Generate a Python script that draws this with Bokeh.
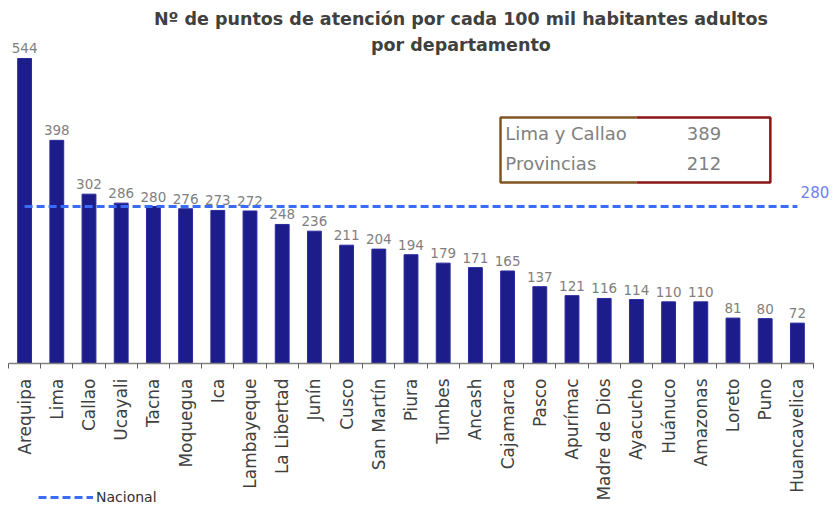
import math
from bokeh.plotting import figure
from bokeh.models import Range1d, FixedTicker, Label, Legend, LegendItem, ColumnDataSource
from bokeh.embed import file_html
from bokeh.resources import INLINE
from bokeh.core.properties import value

departamentos = ["Arequipa", "Lima", "Callao", "Ucayali", "Tacna", "Moquegua", "Ica",
                 "Lambayeque", "La Libertad", "Junín", "Cusco", "San Martín", "Piura",
                 "Tumbes", "Ancash", "Cajamarca", "Pasco", "Apurímac", "Madre de Dios",
                 "Ayacucho", "Huánuco", "Amazonas", "Loreto", "Puno", "Huancavelica"]
puntos = [544, 398, 302, 286, 280, 276, 273, 272, 248, 236, 211, 204, 194, 179, 171,
          165, 137, 121, 116, 114, 110, 110, 81, 80, 72]
nacional = 280
resumen_labels = ["Lima y Callao", "Provincias"]
resumen_values = [389, 212]

FONT = "DejaVu Sans"
n = len(departamentos)
xs = list(range(n))

# frame covers the whole canvas; axis is pinned at y=0
PX_X = 32.2
PX_Y = 0.5607
x0 = -0.5 - 8 / PX_X
x1 = n - 0.5 + 20 / PX_X
y0 = -145 / PX_Y
y1 = 363 / PX_Y

p = figure(width=833, height=508, x_range=Range1d(x0, x1), y_range=Range1d(y0, y1),
           output_backend="svg", toolbar_location=None, y_axis_location=None,
           min_border_left=0, min_border_right=0, min_border_top=0, min_border_bottom=0)
p.xgrid.visible = False
p.ygrid.visible = False
p.outline_line_color = None
p.background_fill_color = "white"
p.border_fill_color = "white"

src = ColumnDataSource(dict(x=xs, y=puntos, lab=[str(v) for v in puntos], name=departamentos))
p.vbar(x="x", top="y", width=0.43, source=src, fill_color="#1c1c8a", line_color="#2a2a9e")
p.text(x="x", y="y", text="lab", source=src, text_align="center", text_baseline="bottom",
       y_offset=-5, text_font=value(FONT), text_font_size="13.5px", text_color="#7f7f7f")

r_nac = p.line(x=[xs[0], xs[-1]], y=[nacional, nacional], line_color="#3b6cf7",
               line_width=3, line_dash="8 4")
p.add_layout(Label(x=xs[-1] + 0.1, y=nacional + 15, text=str(nacional), text_align="left",
                   text_baseline="bottom", text_font=FONT, text_font_size="15px",
                   text_color="#6f80f0"))

# x axis
ax = p.xaxis[0]
ax.fixed_location = 0
ax.bounds = (-0.5, n - 0.5)
ax.ticker = FixedTicker(ticks=xs, minor_ticks=[x - 0.5 for x in xs] + [xs[-1] + 0.5])
ax.major_label_overrides = {x: d for x, d in zip(xs, departamentos)}
ax.major_label_orientation = math.pi / 2
ax.major_tick_out = 0
ax.major_tick_in = 0
ax.minor_tick_out = 5
ax.minor_tick_in = 0
ax.minor_tick_line_color = "#606060"
ax.axis_line_color = "#808080"
ax.axis_line_width = 1.5
ax.major_label_standoff = 10
ax.major_label_text_font = FONT
ax.major_label_text_font_size = "17px"
ax.major_label_text_color = "#404040"

# title
for txt, yy in [("Nº de puntos de atención por cada 100 mil habitantes adultos", 615),
                ("por departamento", 568)]:
    p.add_layout(Label(x=13.55, y=yy, text=txt, text_align="center", text_baseline="middle",
                       text_font=FONT, text_font_size="17.5px", text_font_style="bold",
                       text_color="#404040"))

# summary box
bl, bm, br, bt, bb = 14.78, 19.0, 23.16, 438.7, 322.8
p.line(x=[bm, bl, bl, bm], y=[bt, bt, bb, bb], line_color="#7f5522", line_width=2.5)
p.line(x=[bm, br, br, bm], y=[bt, bt, bb, bb], line_color="#8b1414", line_width=2.5)
for lab, val, yy in zip(resumen_labels, resumen_values, [410, 356.7]):
    p.add_layout(Label(x=bl + 0.15, y=yy, text=lab, text_align="left", text_baseline="middle",
                       text_font=FONT, text_font_size="18px", text_color="#808080"))
    p.add_layout(Label(x=21.1, y=yy, text=str(val), text_align="center", text_baseline="middle",
                       text_font=FONT, text_font_size="18px", text_color="#808080"))

legend = Legend(items=[LegendItem(label="Nacional", renderers=[r_nac])], location=(38, 3),
                orientation="horizontal", glyph_width=55, glyph_height=10, label_standoff=3,
                label_text_font=FONT, label_text_font_size="14px", label_text_color="#303030",
                border_line_color=None, background_fill_alpha=0, margin=0, padding=4)
p.add_layout(legend)

open("out.html", "w").write(file_html(p, INLINE))
